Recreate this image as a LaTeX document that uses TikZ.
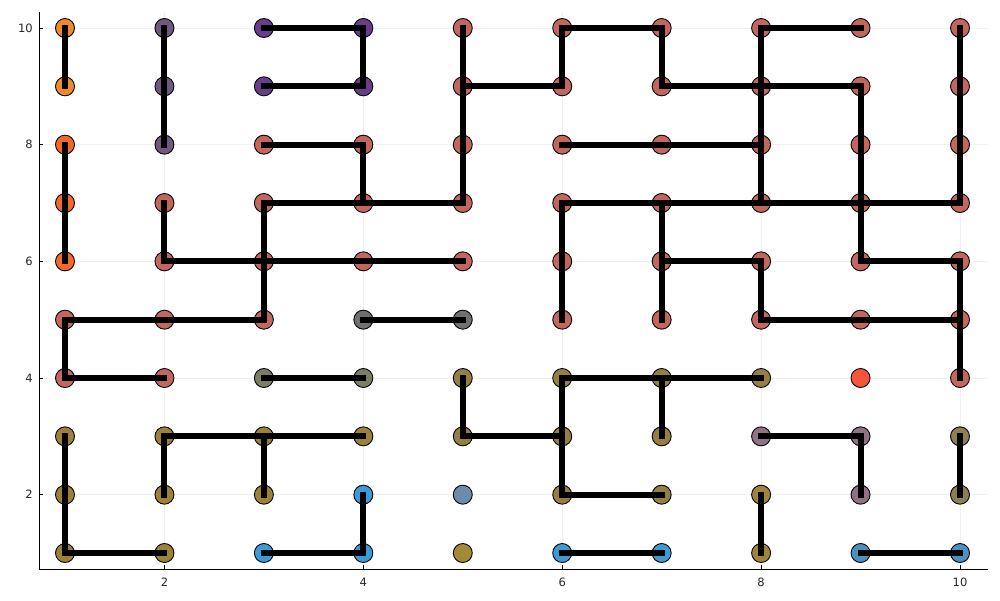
\documentclass[tikz,border=0pt]{standalone}
\usepackage{fontspec}
\setmainfont{DejaVu Sans}
\definecolor{cA}{HTML}{EF8A2C}
\definecolor{cB}{HTML}{F26A2A}
\definecolor{cC}{HTML}{6F5A7D}
\definecolor{cD}{HTML}{6A3D8C}
\definecolor{cE}{HTML}{C2665F}
\definecolor{cF}{HTML}{707070}
\definecolor{cG}{HTML}{7D7F62}
\definecolor{cH}{HTML}{9C8238}
\definecolor{cI}{HTML}{958044}
\definecolor{cJ}{HTML}{8A8052}
\definecolor{cK}{HTML}{A0843A}
\definecolor{cL}{HTML}{A38A38}
\definecolor{cM}{HTML}{3A9CD6}
\definecolor{cN}{HTML}{3E9AD0}
\definecolor{cO}{HTML}{4A90C2}
\definecolor{cP}{HTML}{6D8BAD}
\definecolor{cQ}{HTML}{8E7385}
\definecolor{cR}{HTML}{F5553A}
\definecolor{gridc}{HTML}{F0F0F0}
\newcommand\gpt[3]{\node[dot,fill=#3] (p#1-#2) at ({65+(#1-1)*99.444},{553-(#2-1)*58.333}) {};}
\begin{document}
\begin{tikzpicture}[x=1pt,y=-1pt,
  dot/.style={circle,draw=black,line width=0.9pt,minimum size=19pt,inner sep=0pt},
  edge/.style={line width=6pt,line cap=rect,line join=miter,draw=black},
  gridline/.style={draw=gridc,line width=0.8pt},
  axisline/.style={draw=black,line width=1pt},
  ticklab/.style={font=\fontsize{11.5}{13}\selectfont,inner sep=0pt,text=black!85}]
\useasboundingbox (0,0) rectangle (1000,600);
% grid
\foreach \i in {2,4,6,8,10} {
  \draw[gridline] ({65+(\i-1)*99.444},12) -- ({65+(\i-1)*99.444},569);
  \draw[gridline] (39,{553-(\i-1)*58.333}) -- (988,{553-(\i-1)*58.333});
}
% axes
\coordinate (o) at (39,569);
\coordinate (ytop) at (39,12);
\coordinate (xend) at (988,569);
\draw[axisline] (ytop) -- (o) -- (xend);
\foreach \i in {2,4,6,8,10} {
  \draw[axisline,line width=0.7pt] ({65+(\i-1)*99.444},569) -- ({65+(\i-1)*99.444},565);
  \draw[axisline,line width=0.7pt] (39,{553-(\i-1)*58.333}) -- (43,{553-(\i-1)*58.333});
  \node[ticklab,anchor=north] (xl\i) at ({65+(\i-1)*99.444},578) {\i};
  \node[ticklab,anchor=east] (yl\i) at (33,{553-(\i-1)*58.333}) {\i};
}
% points
\gpt{1}{10}{cA}\gpt{1}{9}{cA}
\gpt{1}{8}{cB}\gpt{1}{7}{cB}\gpt{1}{6}{cB}
\gpt{1}{5}{cE}\gpt{1}{4}{cE}
\gpt{1}{3}{cH}\gpt{1}{2}{cH}\gpt{1}{1}{cH}
\gpt{2}{10}{cC}\gpt{2}{9}{cC}\gpt{2}{8}{cC}
\gpt{2}{7}{cE}\gpt{2}{6}{cE}\gpt{2}{5}{cE}\gpt{2}{4}{cE}
\gpt{2}{3}{cH}\gpt{2}{2}{cH}\gpt{2}{1}{cH}
\gpt{3}{10}{cD}\gpt{3}{9}{cD}
\gpt{3}{8}{cE}\gpt{3}{7}{cE}\gpt{3}{6}{cE}\gpt{3}{5}{cE}
\gpt{3}{4}{cG}\gpt{3}{3}{cH}\gpt{3}{2}{cH}\gpt{3}{1}{cM}
\gpt{4}{10}{cD}\gpt{4}{9}{cD}
\gpt{4}{8}{cE}\gpt{4}{7}{cE}\gpt{4}{6}{cE}
\gpt{4}{5}{cF}\gpt{4}{4}{cG}\gpt{4}{3}{cH}\gpt{4}{2}{cM}\gpt{4}{1}{cM}
\gpt{5}{10}{cE}\gpt{5}{9}{cE}\gpt{5}{8}{cE}\gpt{5}{7}{cE}\gpt{5}{6}{cE}
\gpt{5}{5}{cF}\gpt{5}{4}{cI}\gpt{5}{3}{cI}\gpt{5}{2}{cP}\gpt{5}{1}{cL}
\gpt{6}{10}{cE}\gpt{6}{9}{cE}\gpt{6}{8}{cE}\gpt{6}{7}{cE}\gpt{6}{6}{cE}\gpt{6}{5}{cE}
\gpt{6}{4}{cI}\gpt{6}{3}{cI}\gpt{6}{2}{cI}\gpt{6}{1}{cN}
\gpt{7}{10}{cE}\gpt{7}{9}{cE}\gpt{7}{8}{cE}\gpt{7}{7}{cE}\gpt{7}{6}{cE}\gpt{7}{5}{cE}
\gpt{7}{4}{cI}\gpt{7}{3}{cI}\gpt{7}{2}{cI}\gpt{7}{1}{cN}
\gpt{8}{10}{cE}\gpt{8}{9}{cE}\gpt{8}{8}{cE}\gpt{8}{7}{cE}\gpt{8}{6}{cE}\gpt{8}{5}{cE}
\gpt{8}{4}{cI}\gpt{8}{3}{cQ}\gpt{8}{2}{cK}\gpt{8}{1}{cK}
\gpt{9}{10}{cE}\gpt{9}{9}{cE}\gpt{9}{8}{cE}\gpt{9}{7}{cE}\gpt{9}{6}{cE}\gpt{9}{5}{cE}
\gpt{9}{4}{cR}\gpt{9}{3}{cQ}\gpt{9}{2}{cQ}\gpt{9}{1}{cO}
\gpt{10}{10}{cE}\gpt{10}{9}{cE}\gpt{10}{8}{cE}\gpt{10}{7}{cE}\gpt{10}{6}{cE}\gpt{10}{5}{cE}
\gpt{10}{4}{cE}\gpt{10}{3}{cJ}\gpt{10}{2}{cJ}\gpt{10}{1}{cO}
% edges
\draw[edge] (p1-10.center) -- (p1-9.center);
\draw[edge] (p1-8.center) -- (p1-7.center) -- (p1-6.center);
\draw[edge] (p2-4.center) -- (p1-4.center) -- (p1-5.center) -- (p2-5.center) -- (p3-5.center) -- (p3-6.center) -- (p3-7.center) -- (p4-7.center) -- (p5-7.center) -- (p5-8.center) -- (p5-9.center) -- (p5-10.center);
\draw[edge] (p5-9.center) -- (p6-9.center) -- (p6-10.center) -- (p7-10.center) -- (p7-9.center) -- (p8-9.center) -- (p9-9.center) -- (p9-8.center) -- (p9-7.center) -- (p9-6.center) -- (p10-6.center) -- (p10-5.center) -- (p10-4.center);
\draw[edge] (p2-10.center) -- (p2-9.center) -- (p2-8.center);
\draw[edge] (p2-7.center) -- (p2-6.center) -- (p3-6.center) -- (p4-6.center) -- (p5-6.center);
\draw[edge] (p3-10.center) -- (p4-10.center) -- (p4-9.center) -- (p3-9.center);
\draw[edge] (p3-8.center) -- (p4-8.center) -- (p4-7.center);
\draw[edge] (p9-10.center) -- (p8-10.center) -- (p8-9.center) -- (p8-8.center) -- (p8-7.center);
\draw[edge] (p6-8.center) -- (p7-8.center) -- (p8-8.center);
\draw[edge] (p6-5.center) -- (p6-6.center) -- (p6-7.center) -- (p7-7.center) -- (p8-7.center) -- (p9-7.center) -- (p10-7.center) -- (p10-8.center) -- (p10-9.center) -- (p10-10.center);
\draw[edge] (p7-5.center) -- (p7-6.center) -- (p7-7.center);
\draw[edge] (p7-6.center) -- (p8-6.center) -- (p8-5.center) -- (p9-5.center) -- (p10-5.center);
\draw[edge] (p4-5.center) -- (p5-5.center);
\draw[edge] (p3-4.center) -- (p4-4.center);
\draw[edge] (p1-3.center) -- (p1-2.center) -- (p1-1.center) -- (p2-1.center);
\draw[edge] (p2-2.center) -- (p2-3.center) -- (p3-3.center) -- (p4-3.center);
\draw[edge] (p3-3.center) -- (p3-2.center);
\draw[edge] (p3-1.center) -- (p4-1.center) -- (p4-2.center);
\draw[edge] (p5-4.center) -- (p5-3.center) -- (p6-3.center);
\draw[edge] (p8-4.center) -- (p7-4.center) -- (p6-4.center) -- (p6-3.center) -- (p6-2.center) -- (p7-2.center);
\draw[edge] (p7-4.center) -- (p7-3.center);
\draw[edge] (p8-3.center) -- (p9-3.center) -- (p9-2.center);
\draw[edge] (p10-3.center) -- (p10-2.center);
\draw[edge] (p8-2.center) -- (p8-1.center);
\draw[edge] (p6-1.center) -- (p7-1.center);
\draw[edge] (p9-1.center) -- (p10-1.center);
\end{tikzpicture}
\end{document}
